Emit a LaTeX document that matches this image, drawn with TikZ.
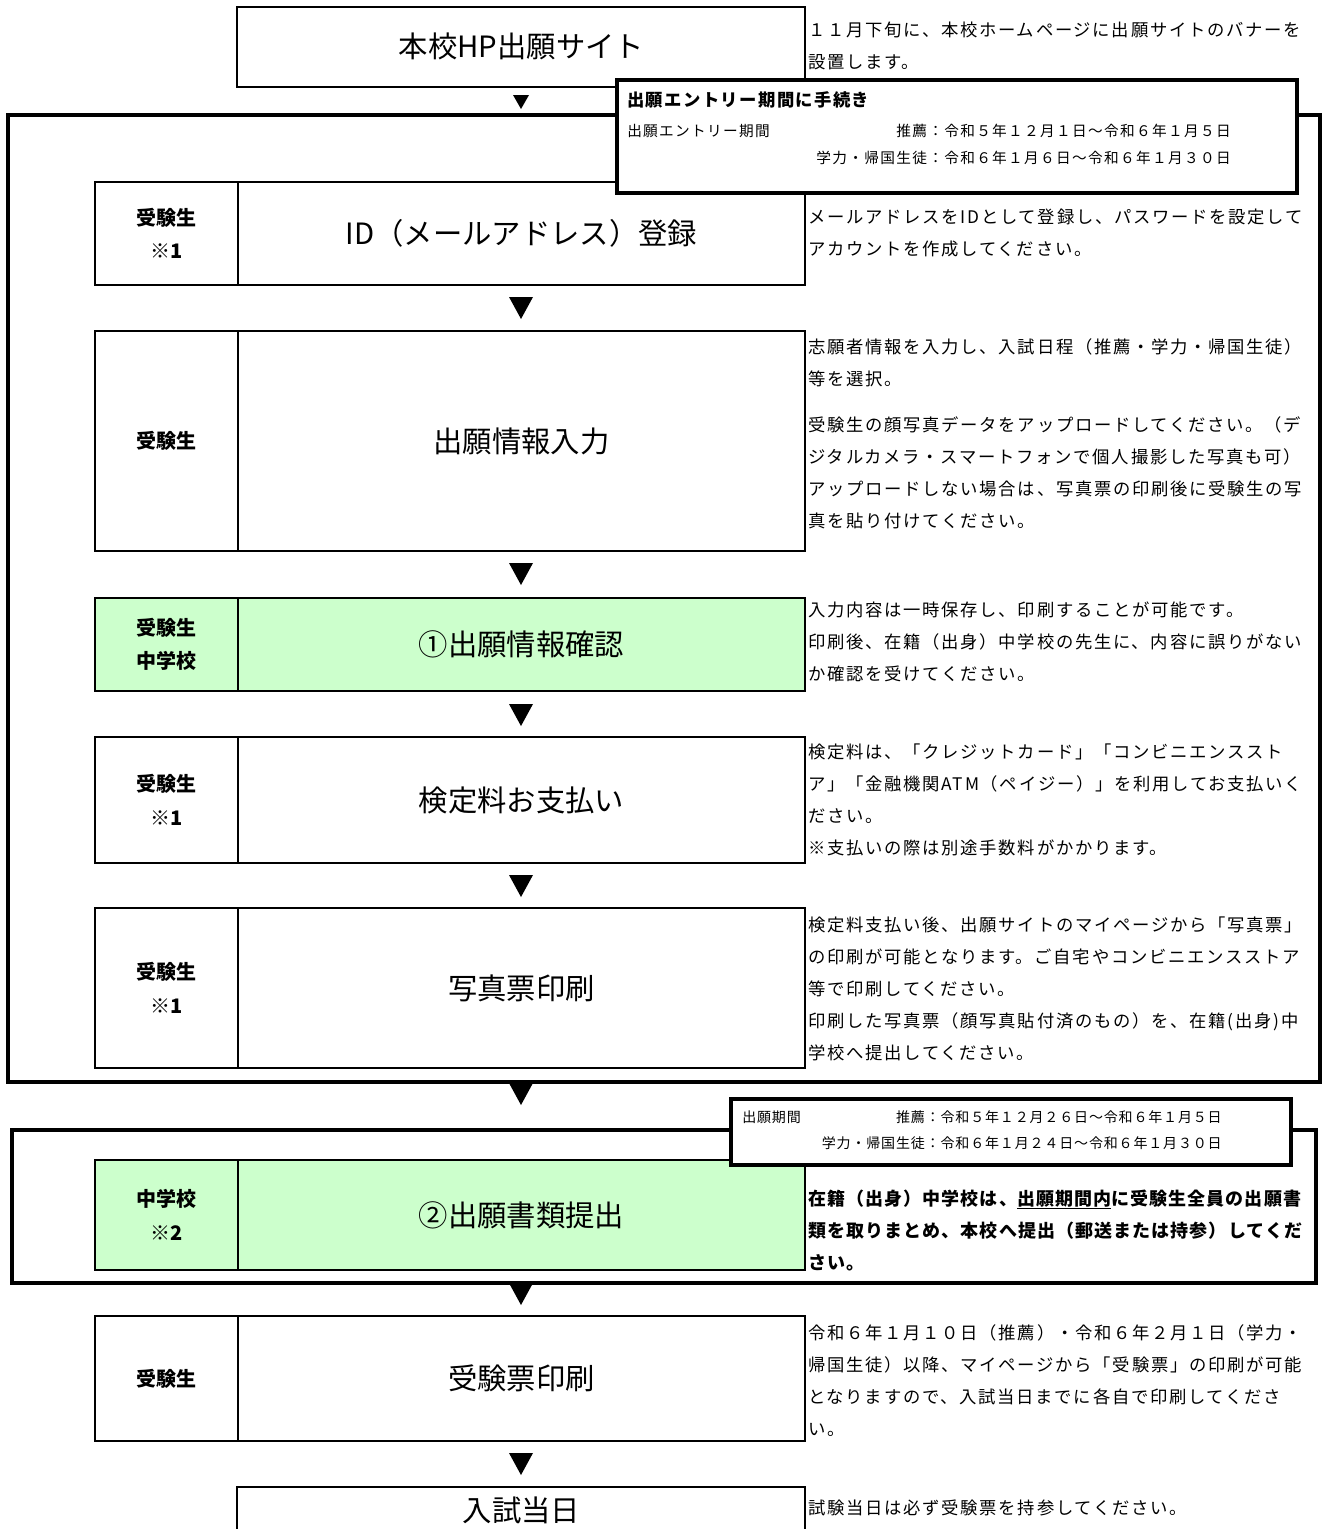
\documentclass[tikz,border=0pt]{standalone}
\usepackage{fontspec}
\setmainfont{Noto Sans CJK JP}
\definecolor{rowgreen}{HTML}{CCFFCC}
\newcommand\mylines[1]{\vtop{\halign{##\hfil\cr#1\crcr}}}
\newcommand\mytri[1]{\fill (#1) ++(-12,-11) -- ++(24,0) -- ++(-12,22) -- cycle;}
\newcommand\flowrow[6]{%
  \filldraw[fill=#3, rowline] (95,#1) rectangle (805,#2);
  \draw[rowline] (238,#1) -- (238,#2);
  \node[labtxt] (#4l) at (166.5,{(#1+#2)/2}) {#5};
  \node[maintxt] (#4m) at (521.5,{(#1+#2)/2}) {#6};}
\tikzset{
  rowline/.style={line width=1.6pt},
  frameline/.style={line width=3pt},
  maintxt/.style={font=\fontsize{22pt}{26pt}\selectfont, inner sep=0pt},
  labtxt/.style={font=\fontsize{15pt}{25pt}\selectfont\bfseries, align=center, inner sep=0pt},
  desc/.style={font=\fontsize{13pt}{24pt}\selectfont\addfontfeature{LetterSpace=10}, anchor=base west, inner sep=0pt},
  descb/.style={font=\fontsize{13.5pt}{24pt}\selectfont\bfseries\addfontfeature{LetterSpace=6}, anchor=base west, inner sep=0pt},
  etitle/.style={font=\fontsize{13pt}{16pt}\selectfont\bfseries\addfontfeature{LetterSpace=8}, anchor=base west, inner sep=0pt},
  esmall/.style={font=\fontsize{11pt}{14pt}\selectfont\addfontfeature{LetterSpace=9}, inner sep=0pt},
  psmall/.style={font=\fontsize{10.5pt}{14pt}\selectfont\addfontfeature{LetterSpace=6}, inner sep=0pt},
}
\begin{document}
\begin{tikzpicture}[x=0.75pt,y=-0.75pt]
\useasboundingbox[fill=white] (0,0) rectangle (1324,1529);
% top box
\draw[rowline] (237,7) rectangle (805,87);
\node[maintxt] (top) at (521.5,46) {本校HP出願サイト};
\node[desc] (d0) at (808,36) {\mylines{１１月下旬に、本校ホームページに出願サイトのバナーを\cr 設置します。}};
\fill (521,109) -- ++(-8,-14) -- ++(16,0) -- cycle;
% frame 1
\draw[frameline] (8,115) rectangle (1320,1082);
\flowrow{182}{285}{white}{r1}{受験生\\※1}{ID（メールアドレス）登録}
\node[desc] (d1) at (808,223) {\mylines{メールアドレスをIDとして登録し、パスワードを設定して\cr アカウントを作成してください。}};
\mytri{521,308}
\flowrow{331}{551}{white}{r2}{受験生}{出願情報入力}
\node[desc] (d2a) at (808,353) {\mylines{志願者情報を入力し、入試日程（推薦・学力・帰国生徒）\cr 等を選択。}};
\node[desc] (d2b) at (808,431) {\mylines{受験生の顔写真データをアップロードしてください。（デ\cr ジタルカメラ・スマートフォンで個人撮影した写真も可）\cr アップロードしない場合は、写真票の印刷後に受験生の写\cr 真を貼り付けてください。}};
\mytri{521,574}
\flowrow{598}{691}{rowgreen}{r3}{受験生\\中学校}{①出願情報確認}
\node[desc] (d3) at (808,616) {\mylines{入力内容は一時保存し、印刷することが可能です。\cr 印刷後、在籍（出身）中学校の先生に、内容に誤りがない\cr か確認を受けてください。}};
\mytri{521,715}
\flowrow{737}{863}{white}{r4}{受験生\\※1}{検定料お支払い}
\node[desc] (d4) at (808,758) {\mylines{検定料は、「クレジットカード」「コンビニエンススト\cr ア」「金融機関ATM（ペイジー）」を利用してお支払いく\cr ださい。\cr ※支払いの際は別途手数料がかかります。}};
\mytri{521,886}
\flowrow{908}{1068}{white}{r5}{受験生\\※1}{写真票印刷}
\node[desc] (d5) at (808,931) {\mylines{検定料支払い後、出願サイトのマイページから「写真票」\cr の印刷が可能となります。ご自宅やコンビニエンスストア\cr 等で印刷してください。\cr 印刷した写真票（顔写真貼付済のもの）を、在籍(出身)中\cr 学校へ提出してください。}};
% entry box
\filldraw[fill=white, frameline] (617,80) rectangle (1297,193);
\node[etitle] (et) at (627,106) {出願エントリー期間に手続き};
\node[esmall, anchor=base west] (e1) at (627,136) {出願エントリー期間};
\node[esmall, anchor=base east] (e2) at (1231,136) {推薦：令和５年１２月１日～令和６年１月５日};
\node[esmall, anchor=base east] (e3) at (1231,163) {学力・帰国生徒：令和６年１月６日～令和６年１月３０日};
\mytri{521,1094}
% frame 2
\draw[frameline] (12,1130) rectangle (1316,1283);
\flowrow{1160}{1270}{rowgreen}{r6}{中学校\\※2}{②出願書類提出}
\node[descb] (d6) at (808,1205) {\mylines{在籍（出身）中学校は、\underline{出願期間内}に受験生全員の出願書\cr 類を取りまとめ、本校へ提出（郵送または持参）してくだ\cr さい。}};
\filldraw[fill=white, frameline] (731,1099) rectangle (1291,1165);
\node[psmall, anchor=base west] (p1) at (742,1122) {出願期間};
\node[psmall, anchor=base east] (p2) at (1222,1122) {推薦：令和５年１２月２６日～令和６年１月５日};
\node[psmall, anchor=base east] (p3) at (1222,1148) {学力・帰国生徒：令和６年１月２４日～令和６年１月３０日};
\mytri{521,1294}
\flowrow{1316}{1441}{white}{r7}{受験生}{受験票印刷}
\node[desc] (d7) at (808,1339) {\mylines{令和６年１月１０日（推薦）・令和６年２月１日（学力・\cr 帰国生徒）以降、マイページから「受験票」の印刷が可能\cr となりますので、入試当日までに各自で印刷してくださ\cr い。}};
\mytri{521,1464}
\draw[rowline] (237,1545) -- (237,1487) -- (805,1487) -- (805,1545);
\node[maintxt] (last) at (521.5,1510) {入試当日};
\node[desc] (d8) at (808,1514) {試験当日は必ず受験票を持参してください。};
\end{tikzpicture}
\end{document}
